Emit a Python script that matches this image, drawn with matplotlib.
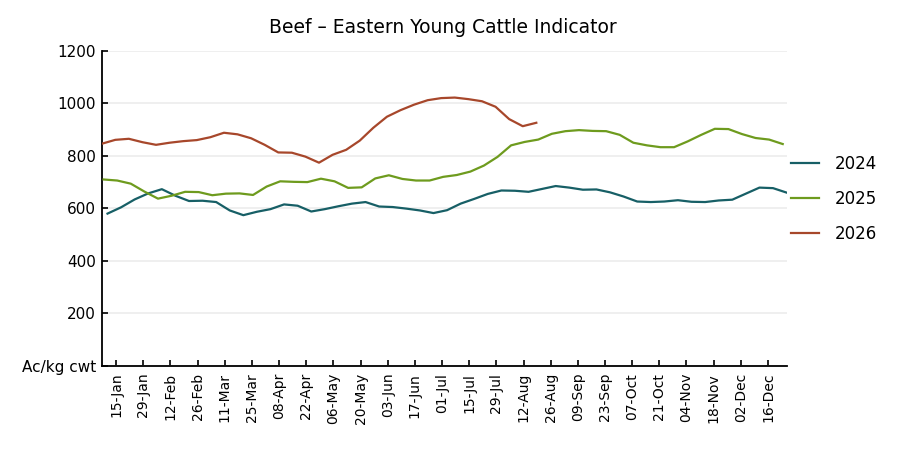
import matplotlib
matplotlib.use("Agg")
import matplotlib.pyplot as plt

# weekly prices, Ac/kg cwt
y2024 = [580, 604, 634, 657, 673, 648, 628, 629, 624, 592, 574, 587, 597,
         615, 610, 588, 597, 608, 618, 624, 607, 605, 599, 592, 582, 593,
         618, 636, 655, 668, 667, 663, 674, 685, 679, 671, 672, 661, 645,
         626, 624, 626, 631, 625, 624, 630, 633, 656, 679, 677, 660]
y2025 = [710, 706, 694, 664, 637, 648, 663, 662, 650, 656, 657, 651, 683,
         703, 701, 700, 713, 703, 678, 680, 714, 726, 712, 706, 706, 720,
         727, 740, 763, 796, 840, 853, 862, 884, 894, 898, 895, 894, 880,
         850, 840, 833, 833, 855, 880, 903, 902, 883, 868, 862, 845]
y2026 = [846, 861, 865, 852, 842, 850, 856, 860, 871, 888, 882, 867, 842,
         813, 812, 797, 774, 804, 823, 858, 907, 949, 974, 995, 1012, 1020,
         1022, 1016, 1008, 987, 940, 913, 926]

# first week of each year, days after the axis start (05-Jan)
start_day = {"2024": 3, "2025": 1, "2026": 0}

tick_labels = ["15-Jan", "29-Jan", "12-Feb", "26-Feb", "11-Mar", "25-Mar",
               "08-Apr", "22-Apr", "06-May", "20-May", "03-Jun", "17-Jun",
               "01-Jul", "15-Jul", "29-Jul", "12-Aug", "26-Aug", "09-Sep",
               "23-Sep", "07-Oct", "21-Oct", "04-Nov", "18-Nov", "02-Dec",
               "16-Dec"]

colors = {"2024": "#175f66", "2025": "#6e9b1e", "2026": "#a7472b"}

fig = plt.figure(figsize=(9, 4.5), dpi=100)
ax = fig.add_axes([0.113, 0.187, 0.761, 0.700])

for name, vals in [("2024", y2024), ("2025", y2025), ("2026", y2026)]:
    xs = [start_day[name] + 7 * i for i in range(len(vals))]
    ax.plot(xs, vals, color=colors[name], lw=1.6, label=name, zorder=3)

ax.set_ylim(0, 1200)
ax.set_xlim(0, 353)
ax.set_yticks(range(0, 1201, 200))
ax.set_yticklabels(["Ac/kg cwt"] + [str(v) for v in range(200, 1201, 200)])
ax.set_xticks([7.4 + 14 * k for k in range(len(tick_labels))])
ax.set_xticklabels(tick_labels, rotation=90)

ax.grid(axis="y", color="#ececec", lw=1.2, zorder=0)
ax.set_axisbelow(True)
for s in ["top", "right"]:
    ax.spines[s].set_visible(False)
ax.spines["left"].set_linewidth(1.3)
ax.spines["bottom"].set_linewidth(1.3)
ax.tick_params(axis="y", direction="in", length=4, width=1.2, pad=4, labelsize=11)
ax.tick_params(axis="x", direction="in", length=4, width=1.2, pad=5, labelsize=10)

fig.text(0.492, 0.938, "Beef \u2013 Eastern Young Cattle Indicator",
         ha="center", va="center", fontsize=13.5)

fig.legend(loc="center left", bbox_to_anchor=(0.879, 0.558), frameon=False,
           fontsize=12, handlelength=1.7, handletextpad=0.9, labelspacing=1.0,
           borderpad=0, borderaxespad=0)

fig.savefig("out.png", dpi=100)
